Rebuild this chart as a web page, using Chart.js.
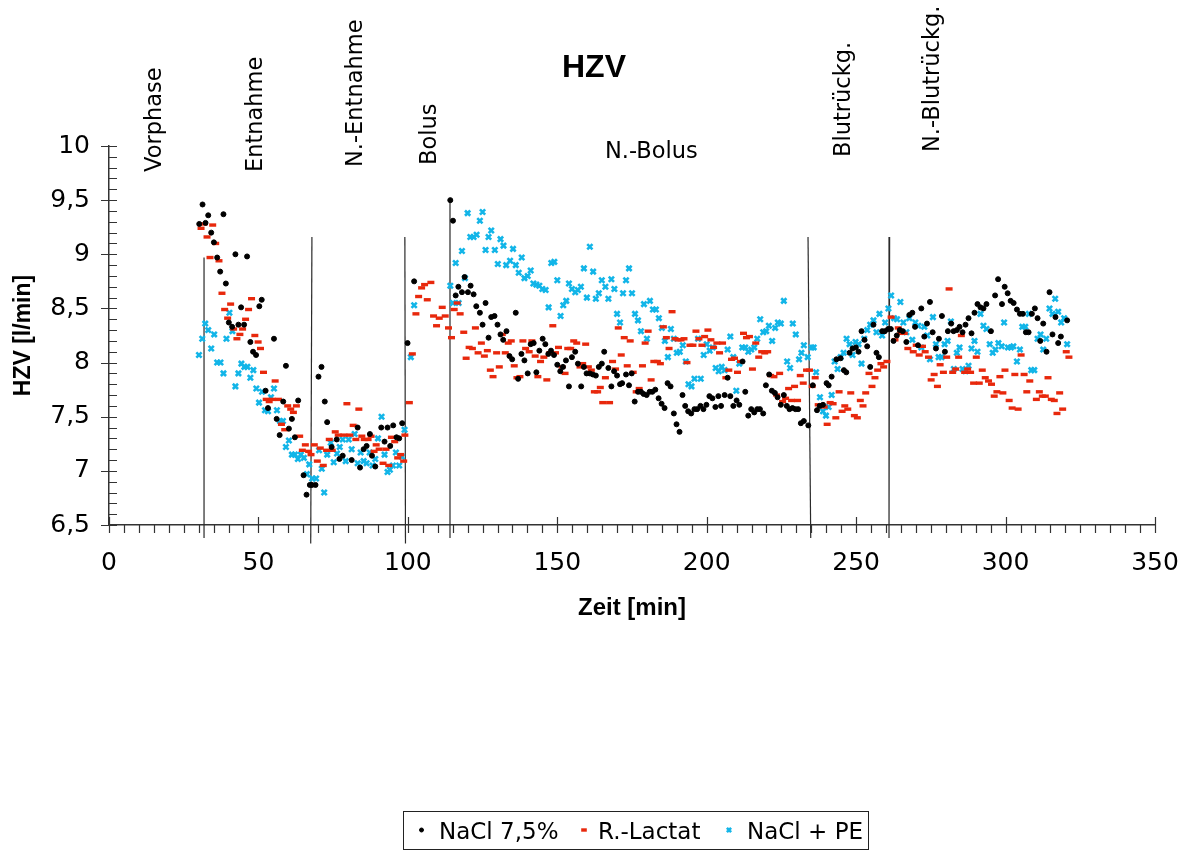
<!DOCTYPE html>
<html><head><meta charset="utf-8">
<script src="https://cdn.jsdelivr.net/npm/chart.js@4/dist/chart.umd.min.js"></script>
<style>html,body{margin:0;padding:0;background:#fff}</style>
</head><body>
<canvas id="c" width="1193" height="852"></canvas>
<script>
// ---------- DATA ----------
const chartTitle = 'HZV';
const xAxisTitle = 'Zeit [min]';
const yAxisTitle = 'HZV [l/min]';
const xTickValues = [0, 50, 100, 150, 200, 250, 300, 350];
const yTickValues = [6.5, 7, 7.5, 8, 8.5, 9, 9.5, 10];
const yTickLabels = ['6,5', '7', '7,5', '8', '8,5', '9', '9,5', '10'];
const seriesNames = ['NaCl 7,5%', 'R.-Lactat', 'NaCl + PE'];

// phase boundaries (min) and the span of each marker line (HZV units)
const phaseNames = ['Vorphase', 'Entnahme', 'N.-Entnahme', 'Bolus', 'N.-Bolus', 'Blutrückg.', 'N.-Blutrückg.'];
const phaseLineTimeTop = [31.8, 67.9, 99.0, 114.1, 233.9, 261.2];
const phaseLineTimeBottom = [31.8, 67.5, 99.2, 114.1, 234.8, 261.0];
const phaseLineTop = [8.97, 9.16, 9.16, 9.50, 9.16, 9.16];
const phaseLineBottom = [6.38, 6.33, 6.33, 6.38, 6.38, 6.38];

// NaCl 7,5%
const naclTime = [30.2,31.3,32.3,33.2,34.2,35.1,36.2,37.2,38.3,39.1,40.1,41.2,42.3,43.3,44.2,45.2,46.2,47.3,48.2,49.2,50.3,51.1,52.4,53.2,55.2,56.1,57.1,58.3,59.2,60.2,61.2,62.2,63.3,65.1,66.1,67.2,67.9,69.1,70.1,71.1,72.2,73.0,74.5,76.2,77.1,78.2,81.2,83.2,84.0,85.2,86.2,87.3,88.0,89.1,91.1,92.2,93.2,94.1,95.1,96.2,97.1,98.1,99.9,102.1,
114.2,115.1,116.0,116.9,118.1,119.0,120.1,121.0,122.0,122.9,124.1,125.0,126.0,127.0,127.9,129.0,130.0,131.0,131.9,133.0,134.0,134.9,136.1,136.9,138.0,139.0,140.1,141.1,142.1,143.0,144.0,145.1,146.0,147.0,147.9,148.9,150.0,151.0,151.9,152.9,153.9,154.9,156.0,156.9,158.0,158.9,159.8,160.9,161.9,162.9,163.9,164.9,165.7,
167.1,168.1,169.0,170.0,171.0,171.7,173.0,174.0,174.9,175.9,177.0,178.0,178.9,179.9,180.9,181.8,182.8,183.9,184.9,185.9,186.9,187.9,189.0,189.9,190.9,191.9,192.8,193.8,194.8,195.9,196.8,197.9,198.9,199.9,200.9,201.9,202.9,203.9,204.8,206.0,207.0,207.9,208.9,210.0,210.9,212.0,212.9,213.9,214.9,215.9,216.9,217.8,218.9,219.8,220.9,221.8,222.8,223.7,224.8,225.8,226.8,227.7,228.7,229.7,230.6,231.5,232.5,
234.0,235.5,236.9,237.8,238.9,240.1,240.8,241.8,243.4,244.8,245.9,246.7,247.8,248.8,249.9,250.8,251.8,252.8,253.7,254.7,255.8,256.8,257.6,258.7,259.6,260.7,261.6,262.5,263.6,264.6,265.6,266.8,267.8,268.8,269.7,270.7,271.8,272.8,273.7,274.7,275.6,276.7,277.7,278.7,279.7,280.7,281.8,282.6,283.7,284.6,285.6,286.6,287.6,288.6,289.6,290.6,291.6,292.6,293.6,295.1,296.5,297.5,298.8,
299.7,300.7,301.7,302.7,303.8,304.8,305.8,306.8,307.7,308.8,309.8,310.7,311.6,312.6,313.7,314.7,315.7,316.7,317.6,318.5,320.6];
const naclHZV = [9.28,9.46,9.29,9.36,9.20,9.11,8.97,8.84,9.37,8.73,8.37,8.33,9.00,8.35,8.51,8.35,8.98,8.19,8.10,8.07,8.52,8.58,7.74,7.58,8.22,7.48,7.33,7.64,7.97,7.39,7.48,7.31,7.65,6.96,6.78,6.87,6.87,6.87,7.87,7.96,7.64,7.45,7.22,7.29,7.11,7.14,7.10,7.40,7.03,7.20,7.23,7.34,7.14,7.04,7.40,7.27,7.40,7.23,7.42,7.31,7.30,7.44,8.18,8.75,
9.50,9.31,8.62,8.70,8.65,8.79,8.65,8.71,8.63,8.52,8.46,8.35,8.55,8.23,8.42,8.43,8.35,8.26,8.21,8.29,8.06,8.03,8.46,7.85,8.08,8.02,7.90,8.17,8.18,7.91,8.11,8.22,8.17,8.08,8.11,8.07,7.98,7.92,7.96,8.02,7.78,8.05,8.10,7.99,7.78,7.96,7.90,7.90,7.89,7.88,7.96,7.99,8.10,
7.95,7.78,7.92,7.88,7.80,7.81,7.89,7.79,7.90,7.64,7.73,7.73,7.71,7.70,7.73,7.73,7.75,7.67,7.62,7.58,7.81,7.78,7.53,7.43,7.36,7.70,7.60,7.55,7.53,7.57,7.57,7.60,7.57,7.61,7.69,7.67,7.59,7.69,7.60,7.70,7.86,7.69,7.60,7.65,7.61,8.01,7.73,7.51,7.57,7.54,7.57,7.57,7.53,7.79,7.89,7.74,7.72,7.68,7.61,7.70,7.60,7.57,7.58,7.57,7.57,7.44,7.46,
7.42,7.79,7.56,7.60,7.61,7.81,7.79,7.87,8.03,8.04,7.93,7.91,8.09,8.13,8.14,8.10,8.29,8.21,8.15,7.96,8.35,8.09,8.05,8.29,8.29,8.31,8.31,8.20,8.25,8.30,8.29,8.19,8.44,8.46,8.33,8.16,8.50,8.24,8.36,8.56,8.28,8.13,8.22,8.43,8.10,8.29,8.36,8.29,8.30,8.33,8.28,8.35,8.41,8.27,8.46,8.54,8.51,8.50,8.54,8.29,8.62,8.77,8.54,
8.70,8.64,8.57,8.55,8.49,8.45,8.45,8.28,8.28,8.45,8.50,8.41,8.20,8.36,8.10,8.65,8.26,8.42,8.18,8.24,8.39];

// R.-Lactat
const lactatTime = [30.8,31.8,32.8,33.8,34.7,35.7,36.8,37.8,38.7,39.7,40.7,41.7,42.8,43.8,44.7,45.7,46.7,47.7,48.8,49.9,50.7,51.7,52.6,53.6,54.6,55.6,56.7,57.7,58.8,59.8,60.8,61.7,62.7,63.8,64.7,65.7,66.8,67.6,68.7,69.7,70.7,71.7,72.8,73.7,74.7,75.7,76.7,78.6,79.6,80.6,81.7,82.6,83.6,84.6,85.4,86.7,87.7,88.7,89.4,90.4,91.7,92.7,93.6,94.5,95.6,96.6,97.6,98.6,99.0,
100.5,101.5,102.7,103.6,104.6,105.6,106.5,107.7,108.6,109.6,110.5,111.5,112.5,113.6,114.6,115.5,116.5,117.5,118.7,119.5,120.5,121.6,122.6,123.5,124.6,125.6,126.6,127.6,128.5,129.7,130.6,131.6,132.6,133.6,134.6,135.6,136.5,137.5,138.5,139.4,140.6,141.5,142.6,143.5,144.4,145.5,146.5,147.5,148.5,149.4,150.4,151.6,152.6,153.5,154.5,155.5,156.5,157.6,158.5,159.5,160.4,161.4,162.4,163.5,164.4,165.2,166.1,
167.5,168.5,169.5,170.4,171.4,172.4,173.4,174.4,175.4,176.4,177.4,178.5,179.4,180.4,181.4,182.3,183.5,184.5,185.5,186.5,187.4,188.4,189.4,190.4,191.4,192.4,193.4,194.4,195.4,196.4,197.4,198.4,199.3,200.4,201.4,202.3,203.4,204.3,205.3,206.4,207.4,208.3,209.3,210.3,211.3,212.3,213.3,214.3,215.3,216.4,217.4,218.4,219.4,220.4,221.4,222.5,223.4,224.4,225.4,226.4,227.4,228.4,229.4,230.4,231.3,232.3,
233.4,234.4,235.3,236.3,237.3,238.3,239.3,240.3,241.3,242.3,243.2,244.3,245.3,246.2,247.2,248.2,249.4,250.4,251.4,252.3,253.2,254.3,255.3,256.3,257.2,258.3,259.2,260.3,261.7,263.0,264.1,264.9,266.1,267.3,269.1,270.1,271.1,272.2,273.1,274.2,275.1,276.1,277.2,278.1,279.2,280.3,281.1,282.3,283.3,284.3,285.2,286.3,287.3,288.3,289.3,290.2,291.2,292.2,293.2,294.3,295.3,296.2,297.1,298.1,299.1,299.8,
301.2,302.2,303.1,304.2,305.2,306.2,307.1,308.1,310.3,311.3,312.3,313.3,314.2,315.3,316.3,317.2,318.1,319.1,320.3,321.2];
const lactatHZV = [9.24,9.28,9.16,8.97,9.27,9.10,8.94,8.64,8.49,8.41,8.54,8.31,8.22,8.26,8.31,8.40,8.49,8.59,8.25,8.19,8.13,7.91,7.66,7.64,7.66,7.83,7.66,7.43,7.38,7.60,7.57,7.54,7.60,7.32,7.19,7.24,7.18,7.15,7.24,7.09,7.21,7.05,7.19,7.29,7.19,7.36,7.33,7.33,7.62,7.33,7.42,7.29,7.57,7.32,7.29,7.29,7.32,7.18,7.24,7.20,7.07,7.20,7.05,7.31,7.27,7.12,7.15,7.09,7.33,
7.63,8.08,8.45,8.61,8.69,8.72,8.58,8.74,8.43,8.34,8.41,8.51,8.43,8.32,8.23,8.49,8.55,8.45,8.28,8.04,8.14,8.13,8.32,8.09,8.18,8.06,8.11,7.93,7.87,8.09,7.96,8.26,8.09,8.18,8.20,7.97,7.86,7.87,8.20,8.13,8.10,8.20,8.06,7.87,8.01,8.05,7.84,8.09,8.34,8.09,8.14,7.96,7.90,8.13,8.13,8.20,8.18,7.96,7.99,8.17,7.96,7.93,7.73,7.73,7.77,7.63,7.86,
7.63,8.01,7.94,8.32,8.07,8.23,7.97,8.20,7.91,7.73,7.76,7.97,8.18,8.29,7.84,8.01,8.01,7.99,8.33,8.23,8.13,8.47,8.22,8.21,8.21,8.22,8.00,8.16,8.16,8.29,8.22,8.16,8.24,8.30,8.21,8.14,8.18,8.09,8.18,7.86,7.93,8.03,8.04,7.91,8.01,8.27,8.23,8.24,7.94,8.18,8.05,8.10,8.09,8.10,7.88,7.87,7.70,7.90,7.64,7.67,7.76,7.65,7.78,7.65,7.88,7.81,
7.93,7.93,7.78,7.86,7.61,7.61,7.59,7.43,7.63,7.62,7.49,7.73,7.55,7.60,7.57,7.72,7.51,7.49,7.65,7.60,7.72,7.90,7.78,7.86,7.93,7.99,7.96,8.01,8.42,8.21,8.32,8.27,8.27,8.13,8.10,8.16,8.07,8.15,8.10,8.05,7.84,7.89,7.78,7.98,7.91,8.05,8.68,7.91,7.94,8.05,8.25,7.91,7.94,7.91,7.81,8.05,7.81,7.93,7.86,7.83,7.80,7.69,7.73,7.87,7.72,7.93,
7.65,7.58,7.89,7.57,8.07,7.89,7.73,7.83,7.66,7.73,7.69,7.69,7.86,7.66,7.65,7.53,7.72,7.57,8.10,8.05];

// NaCl + PE
const peTime = [30.1,31.2,32.2,33.2,34.2,35.2,36.2,37.3,38.3,39.3,40.3,41.3,42.3,43.3,44.3,45.3,46.3,47.3,48.3,49.3,50.2,51.2,52.2,53.2,54.2,55.2,56.2,57.2,58.2,59.2,60.2,61.2,62.2,63.2,64.2,65.2,66.2,67.0,68.0,69.3,70.3,71.2,72.0,73.0,74.2,75.2,76.3,77.2,78.2,79.2,80.2,81.2,82.2,83.2,84.2,85.2,86.2,87.2,88.2,89.1,90.0,91.2,92.2,93.2,94.0,95.0,96.0,97.1,98.0,98.9,101.0,102.1,
114.2,115.1,116.0,117.0,118.1,119.1,120.0,120.9,122.0,123.0,124.1,125.0,126.0,127.0,127.9,129.1,130.1,131.0,132.0,132.9,134.2,135.2,136.1,137.1,138.1,139.0,140.1,141.1,142.0,143.0,144.0,145.0,146.1,147.1,148.0,149.0,150.0,151.1,152.0,153.0,153.9,154.9,156.0,156.9,157.9,158.9,159.9,160.9,162.0,162.9,163.9,164.9,
166.1,167.1,168.1,169.1,170.0,171.0,172.0,173.0,174.0,175.0,176.0,177.0,178.0,179.0,180.0,181.0,182.0,183.0,184.0,185.0,186.0,187.0,188.0,189.0,190.0,191.0,192.0,193.0,193.9,194.9,195.9,197.1,198.0,199.0,200.0,201.0,202.0,203.0,204.0,205.0,206.0,207.0,207.9,208.9,209.9,210.9,211.9,212.9,213.9,214.9,215.9,216.9,217.9,218.9,219.9,220.8,221.9,222.9,223.8,224.8,225.8,226.9,227.9,228.8,229.8,230.9,231.7,232.5,
233.8,235.1,235.8,236.6,237.9,238.9,239.9,240.8,241.8,242.8,243.8,244.8,245.8,246.8,247.8,248.8,249.8,250.8,251.8,252.7,253.7,254.7,255.8,256.8,257.8,258.7,259.7,260.8,261.7,262.7,263.7,264.8,265.8,266.8,267.8,268.8,269.8,270.8,271.8,272.8,273.8,274.7,275.7,276.7,277.6,278.6,279.6,280.6,281.7,282.7,283.7,284.6,285.6,286.6,287.6,288.6,289.6,290.6,291.6,292.6,293.6,294.7,295.7,296.6,297.6,298.7,299.5,
300.8,301.8,302.6,303.8,304.8,305.6,306.6,307.8,308.6,309.6,310.7,311.7,312.6,313.6,314.7,315.7,316.6,317.6,318.6,319.6,320.6];
const peHZV = [8.07,8.22,8.36,8.30,8.13,8.26,8.00,8.00,7.90,8.22,8.46,8.29,7.78,7.90,7.99,7.96,7.96,7.86,7.93,7.76,7.63,7.73,7.56,7.55,7.68,7.76,7.56,7.46,7.46,7.22,7.28,7.15,7.15,7.11,7.15,7.12,6.97,7.06,6.93,6.93,7.19,7.02,6.80,7.15,7.26,7.08,7.16,7.22,7.29,7.09,7.29,7.20,7.34,7.07,7.17,7.09,7.07,7.17,7.05,7.11,7.30,7.50,7.15,6.99,7.01,7.05,7.17,7.05,7.13,7.38,8.05,8.53,
8.71,8.55,8.92,8.55,9.03,8.78,9.38,9.16,9.16,9.18,9.31,9.39,9.04,9.16,9.22,9.04,8.91,9.14,9.08,8.90,8.94,9.05,8.90,8.83,8.97,8.78,8.80,8.85,8.73,8.72,8.71,8.68,8.67,8.51,8.92,8.93,8.76,8.43,8.53,8.57,8.73,8.68,8.65,8.67,8.70,8.87,8.60,9.07,8.84,8.59,8.64,8.76,
8.70,8.59,8.77,8.68,8.45,8.37,8.64,8.76,8.87,8.64,8.45,8.39,8.29,8.54,8.22,8.57,8.49,8.49,8.41,8.32,8.20,8.05,8.31,8.22,8.09,8.10,8.16,8.01,7.80,7.78,7.85,8.22,7.85,8.07,8.17,8.11,8.14,7.95,7.92,7.96,7.93,8.12,8.24,8.05,7.74,7.99,8.14,8.14,8.10,8.12,8.14,8.22,8.40,8.28,8.29,8.34,8.20,8.32,8.37,8.36,8.57,8.01,7.95,8.36,8.26,8.03,8.09,8.16,
8.05,8.14,8.14,7.91,7.68,7.55,7.51,7.59,7.70,8.01,7.94,8.05,8.09,8.22,8.17,8.07,8.19,8.17,7.99,8.22,8.30,8.35,8.39,8.28,8.45,8.25,8.37,8.50,8.62,8.41,8.40,8.56,8.37,8.28,8.41,8.21,8.37,8.34,8.14,8.33,8.25,8.03,8.42,8.17,8.05,8.05,8.17,8.20,8.38,7.94,8.09,8.14,7.94,7.92,7.97,8.13,8.20,8.10,8.45,8.34,8.31,8.17,8.09,8.12,8.18,8.15,8.37,
8.14,8.14,8.15,8.01,8.12,8.33,8.33,8.45,7.93,7.93,8.22,8.26,8.12,8.22,8.50,8.45,8.59,8.47,8.37,8.41,8.17];

// ---------- STYLES ----------
const COL_BLACK = '#000000', COL_RED = '#e8280c', COL_CYAN = '#12b5e8';
const SANS = '"DejaVu Sans", sans-serif';
const BOLD = '"Liberation Sans", Arial, sans-serif';

const toPts = (t, v) => t.map((x, i) => ({x: x, y: v[i]}));

const seriesStyles = [
  {color: COL_BLACK, pointStyle: 'circle', radius: 2.5, borderWidth: 1},
  {color: COL_RED, pointStyle: 'line', radius: 3.5, borderWidth: 3.4},
  {color: COL_CYAN, pointStyle: 'crossRot', radius: 3.7, borderWidth: 2.6}
];
const seriesData = [toPts(naclTime, naclHZV), toPts(lactatTime, lactatHZV), toPts(peTime, peHZV)];

const dataDatasets = seriesNames.map((name, i) => ({
  label: name,
  data: seriesData[i],
  showLine: false,
  pointStyle: seriesStyles[i].pointStyle,
  pointRadius: seriesStyles[i].radius,
  pointBorderWidth: seriesStyles[i].borderWidth,
  pointBackgroundColor: seriesStyles[i].color,
  pointBorderColor: seriesStyles[i].color,
  order: i
}));

const phaseDatasets = phaseLineTimeTop.map((t, i) => ({
  label: '_phase' + i,
  data: [{x: t, y: phaseLineTop[i]}, {x: phaseLineTimeBottom[i], y: phaseLineBottom[i]}],
  showLine: true,
  borderColor: '#2a2a2a',
  borderWidth: 1.2,
  pointRadius: 0,
  clip: false,
  order: 10
}));

// text layout of the phase captions (pixel anchors)
const phaseCaptionLayout = [
  {rot: true, x: 161, y: 172},
  {rot: true, x: 262, y: 172},
  {rot: true, x: 361.5, y: 167},
  {rot: true, x: 436, y: 165},
  {rot: false, x: 605, y: 158},
  {rot: true, x: 849.5, y: 157},
  {rot: true, x: 938.5, y: 152}
];

const decorPlugin = {
  id: 'decor',
  afterDraw(chart) {
    const ctx = chart.ctx;
    const xs = chart.scales.x, ys = chart.scales.y;
    const ax = chart.chartArea.left, ay = chart.chartArea.bottom;
    ctx.save();
    // tick marks
    ctx.strokeStyle = '#333';
    ctx.lineWidth = 1.2;
    ctx.beginPath();
    for (let v = 0; v <= 350.001; v += 5) {
      const px = Math.round(xs.getPixelForValue(v)) + 0.5;
      const major = Math.abs(v % 50) < 1e-6;
      ctx.moveTo(px, major ? ay - 8 : ay);
      ctx.lineTo(px, ay + 8);
    }
    for (let k = 0; k <= 35; k++) {
      const v = 6.5 + k * 0.1;
      const py = Math.round(ys.getPixelForValue(v)) + 0.5;
      const major = k % 5 === 0;
      ctx.moveTo(major ? ax - 8 : ax, py);
      ctx.lineTo(ax + 8, py);
    }
    ctx.stroke();

    // title
    ctx.fillStyle = '#000';
    ctx.font = 'bold 32px ' + BOLD;
    ctx.textAlign = 'center';
    ctx.textBaseline = 'alphabetic';
    ctx.fillText(chartTitle, 594, 77);

    // phase captions
    ctx.font = '22.5px ' + SANS;
    ctx.textAlign = 'left';
    phaseNames.forEach((name, i) => {
      const L = phaseCaptionLayout[i];
      if (L.rot) {
        ctx.save();
        ctx.translate(L.x, L.y);
        ctx.rotate(-Math.PI / 2);
        ctx.fillText(name, 0, 0);
        ctx.restore();
      } else {
        ctx.fillText(name, L.x, L.y);
      }
    });

    // legend
    ctx.strokeStyle = '#222';
    ctx.lineWidth = 1;
    ctx.strokeRect(403.5, 811.5, 465, 38);
    const legX = [421.5, 584, 729];
    const legTextX = [439, 598, 747];
    ctx.font = '23px ' + SANS;
    seriesNames.forEach((name, i) => {
      const st = seriesStyles[i];
      ctx.fillStyle = st.color;
      ctx.strokeStyle = st.color;
      ctx.lineWidth = st.borderWidth;
      Chart.helpers.drawPoint(ctx, {pointStyle: st.pointStyle, radius: st.radius * 0.8, borderWidth: st.borderWidth * 0.8, rotation: 0}, legX[i], 830);
      ctx.fillStyle = '#000';
      ctx.fillText(name, legTextX[i], 839);
    });
    ctx.restore();
  }
};

new Chart(document.getElementById('c').getContext('2d'), {
  type: 'scatter',
  data: {datasets: [...dataDatasets, ...phaseDatasets]},
  options: {
    responsive: false,
    animation: false,
    devicePixelRatio: 1,
    events: [],
    layout: {padding: {top: 146, right: 38, bottom: 227, left: 0}},
    plugins: {legend: {display: false}, tooltip: {enabled: false}, title: {display: false}},
    scales: {
      x: {
        type: 'linear', min: 0, max: 350,
        afterFit: s => { s.height = 100; },
        afterBuildTicks: s => { s.ticks = xTickValues.map(v => ({value: v})); },
        ticks: {font: {family: SANS, size: 25}, color: '#000', padding: 3, maxRotation: 0, autoSkip: false},
        grid: {display: true, drawOnChartArea: false, drawTicks: true, tickLength: 20, tickColor: 'rgba(0,0,0,0)'},
        border: {display: true, color: '#333', width: 1.5},
        title: {display: true, text: xAxisTitle, color: '#000', font: {family: BOLD, size: 24, weight: 'bold'}, padding: {top: 0, bottom: 2}}
      },
      y: {
        type: 'linear', min: 6.5, max: 10,
        afterFit: s => { s.width = 109; },
        afterBuildTicks: s => { s.ticks = yTickValues.map(v => ({value: v})); },
        ticks: {font: {family: SANS, size: 25}, color: '#000', padding: 19, autoSkip: false,
          callback: (v) => { const i = yTickValues.indexOf(v); return i >= 0 ? yTickLabels[i] : ''; }},
        grid: {display: true, drawOnChartArea: false, drawTicks: false},
        border: {display: true, color: '#333', width: 1.5},
        title: {display: true, text: yAxisTitle, color: '#000', font: {family: BOLD, size: 23, weight: 'bold'}, padding: {top: 10, bottom: 0}}
      }
    }
  },
  plugins: [decorPlugin]
});
</script>
</body></html>
